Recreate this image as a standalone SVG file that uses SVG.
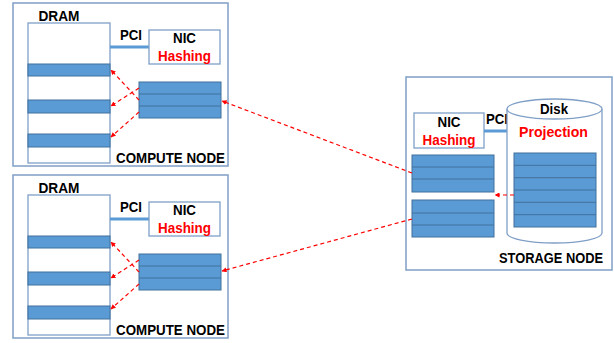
<svg xmlns="http://www.w3.org/2000/svg" width="614" height="343" viewBox="0 0 614 343">
<defs>
<marker id="ah" viewBox="0 0 10 10" refX="9" refY="5" markerWidth="5" markerHeight="5" orient="auto" markerUnits="userSpaceOnUse">
<path d="M0,0 L10,5 L0,10 z" fill="#ff0000"/>
</marker>
</defs>
<style>
.outer{fill:#ffffff;stroke:#7f9fc6;stroke-width:1.5}
.box{fill:#ffffff;stroke:#7f9fc6;stroke-width:1.3}
.blk{fill:#5b9bd5;stroke:#41719c;stroke-width:1}
.sep{stroke:#41719c;stroke-width:1}
.pci{stroke:#5b9bd5;stroke-width:3}
.t{font-family:"Liberation Sans",Arial,sans-serif;font-weight:bold;font-size:15px;fill:#000}
.r{fill:#ff0000}
.dash{stroke:#ff0000;stroke-width:1.2;stroke-dasharray:4,3;fill:none}
</style>
<g id="compute1">
<rect class="outer" x="13" y="3" width="215" height="163"/>
<text class="t" x="59" y="21" text-anchor="middle" textLength="41" lengthAdjust="spacingAndGlyphs">DRAM</text>
<rect class="box" x="28" y="23" width="82" height="140"/>
<rect class="blk" x="28" y="64" width="82" height="12"/>
<rect class="blk" x="28" y="100" width="82" height="13"/>
<rect class="blk" x="28" y="134" width="82" height="13"/>
<line class="pci" x1="110" y1="47" x2="150" y2="47"/>
<text class="t" x="120" y="40" textLength="22" lengthAdjust="spacingAndGlyphs">PCI</text>
<rect class="box" x="149" y="30" width="71" height="34"/>
<text class="t" x="184.5" y="43" text-anchor="middle" textLength="23" lengthAdjust="spacingAndGlyphs">NIC</text>
<text class="t r" x="184.5" y="61" text-anchor="middle" textLength="53" lengthAdjust="spacingAndGlyphs">Hashing</text>
<rect class="blk" x="139" y="82" width="82" height="36"/>
<line class="sep" x1="139" y1="94" x2="221" y2="94"/>
<line class="sep" x1="139" y1="106" x2="221" y2="106"/>
<text class="t" x="116" y="163" textLength="109" lengthAdjust="spacingAndGlyphs">COMPUTE NODE</text>
</g>
<g id="compute2">
<rect class="outer" x="13" y="175" width="215" height="163"/>
<text class="t" x="59" y="193" text-anchor="middle" textLength="41" lengthAdjust="spacingAndGlyphs">DRAM</text>
<rect class="box" x="28" y="195" width="82" height="140"/>
<rect class="blk" x="28" y="236" width="82" height="12"/>
<rect class="blk" x="28" y="272" width="82" height="13"/>
<rect class="blk" x="28" y="306" width="82" height="13"/>
<line class="pci" x1="110" y1="219" x2="150" y2="219"/>
<text class="t" x="120" y="212" textLength="22" lengthAdjust="spacingAndGlyphs">PCI</text>
<rect class="box" x="149" y="202" width="71" height="34"/>
<text class="t" x="184.5" y="215" text-anchor="middle" textLength="23" lengthAdjust="spacingAndGlyphs">NIC</text>
<text class="t r" x="184.5" y="233" text-anchor="middle" textLength="53" lengthAdjust="spacingAndGlyphs">Hashing</text>
<rect class="blk" x="139" y="254" width="82" height="36"/>
<line class="sep" x1="139" y1="266" x2="221" y2="266"/>
<line class="sep" x1="139" y1="278" x2="221" y2="278"/>
<text class="t" x="116" y="335" textLength="109" lengthAdjust="spacingAndGlyphs">COMPUTE NODE</text>
</g>
<g id="storage">
<rect class="outer" x="406" y="77" width="206" height="193"/>
<rect class="box" x="414" y="113" width="70" height="35"/>
<text class="t" x="449" y="127" text-anchor="middle" textLength="23" lengthAdjust="spacingAndGlyphs">NIC</text>
<text class="t r" x="449" y="145" text-anchor="middle" textLength="53" lengthAdjust="spacingAndGlyphs">Hashing</text>
<line class="pci" x1="484" y1="131" x2="509" y2="131"/>
<text class="t" x="486" y="124" textLength="22" lengthAdjust="spacingAndGlyphs">PCI</text>
<path class="box" d="M507,109 L507,233 A47.5,10 0 0 0 602,233 L602,109"/>
<ellipse class="box" cx="554.5" cy="109" rx="47.5" ry="10"/>
<text class="t" x="554" y="114" text-anchor="middle" textLength="28" lengthAdjust="spacingAndGlyphs">Disk</text>
<text class="t r" x="553.5" y="137" text-anchor="middle" textLength="69" lengthAdjust="spacingAndGlyphs">Projection</text>
<rect class="blk" x="514" y="153" width="82" height="74"/>
<line class="sep" x1="514" y1="165.3" x2="596" y2="165.3"/>
<line class="sep" x1="514" y1="177.7" x2="596" y2="177.7"/>
<line class="sep" x1="514" y1="190" x2="596" y2="190"/>
<line class="sep" x1="514" y1="202.3" x2="596" y2="202.3"/>
<line class="sep" x1="514" y1="214.7" x2="596" y2="214.7"/>
<rect class="blk" x="412" y="155" width="82" height="37"/>
<line class="sep" x1="412" y1="167" x2="494" y2="167"/>
<line class="sep" x1="412" y1="179" x2="494" y2="179"/>
<rect class="blk" x="412" y="200" width="82" height="37"/>
<line class="sep" x1="412" y1="213" x2="494" y2="213"/>
<line class="sep" x1="412" y1="225" x2="494" y2="225"/>
<text class="t" x="499" y="263" style="font-size:14px" textLength="104" lengthAdjust="spacingAndGlyphs">STORAGE NODE</text>
</g>
<g id="connectors">
<line class="dash" x1="139" y1="100" x2="111" y2="70" marker-end="url(#ah)"/>
<line class="dash" x1="139" y1="88" x2="111" y2="106" marker-end="url(#ah)"/>
<line class="dash" x1="139" y1="112" x2="111" y2="137" marker-end="url(#ah)"/>
<line class="dash" x1="139" y1="272" x2="111" y2="242" marker-end="url(#ah)"/>
<line class="dash" x1="139" y1="260" x2="111" y2="278" marker-end="url(#ah)"/>
<line class="dash" x1="139" y1="284" x2="111" y2="309" marker-end="url(#ah)"/>
<line class="dash" x1="412" y1="173" x2="222" y2="101" marker-end="url(#ah)"/>
<line class="dash" x1="412" y1="219" x2="222" y2="271" marker-end="url(#ah)"/>
<line class="dash" x1="514" y1="195" x2="495" y2="195" marker-end="url(#ah)"/>
</g>
</svg>
